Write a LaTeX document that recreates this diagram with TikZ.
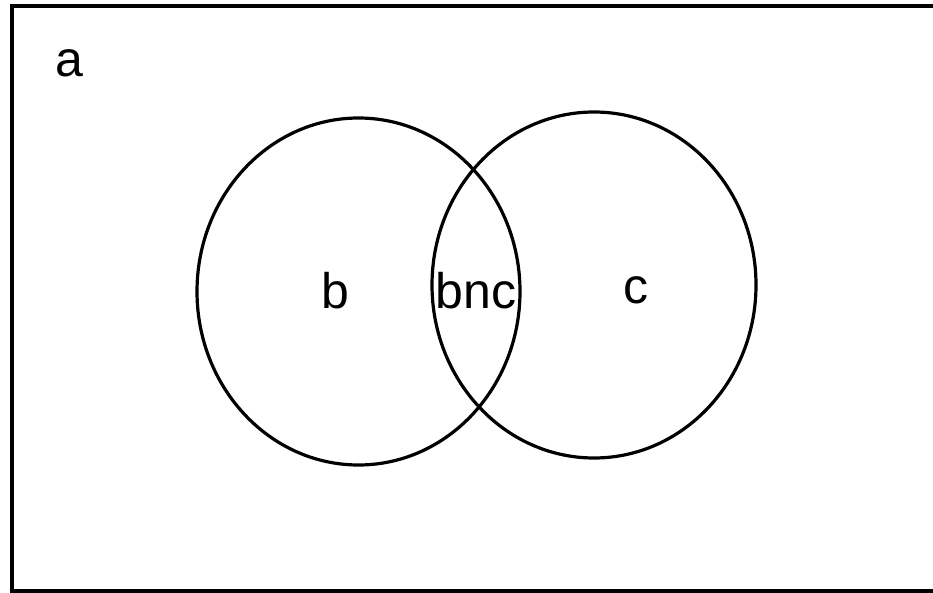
\documentclass[tikz,border=0pt]{standalone}
\usepackage{fontspec}
\setmainfont{Liberation Sans}
\usetikzlibrary{shapes.geometric}
\begin{document}
\begin{tikzpicture}[x=1pt,y=-1pt,
  setcircle/.style={ellipse, draw, line width=3.2pt, inner sep=0pt},
  lbl/.style={anchor=base, inner sep=0pt, font=\fontsize{50}{60}\selectfont}]
\useasboundingbox (0,0) rectangle (933,593);
\begin{scope}
\clip (0,0) rectangle (933,593);
\draw[line width=3.5pt] (12,6) rectangle (945,591);
\end{scope}
\node[setcircle, minimum width=323pt, minimum height=347pt] (B) at (358.5,291.5) {};
\node[setcircle, minimum width=324pt, minimum height=346pt] (C) at (594,285) {};
\node[lbl] (la) at (69,77) {a};
\node[lbl] (lb) at (335,308) {b};
\node[lbl] (lbc) at (476,308) {bnc};
\node[lbl] (lc) at (636,303) {c};
\end{tikzpicture}
\end{document}
